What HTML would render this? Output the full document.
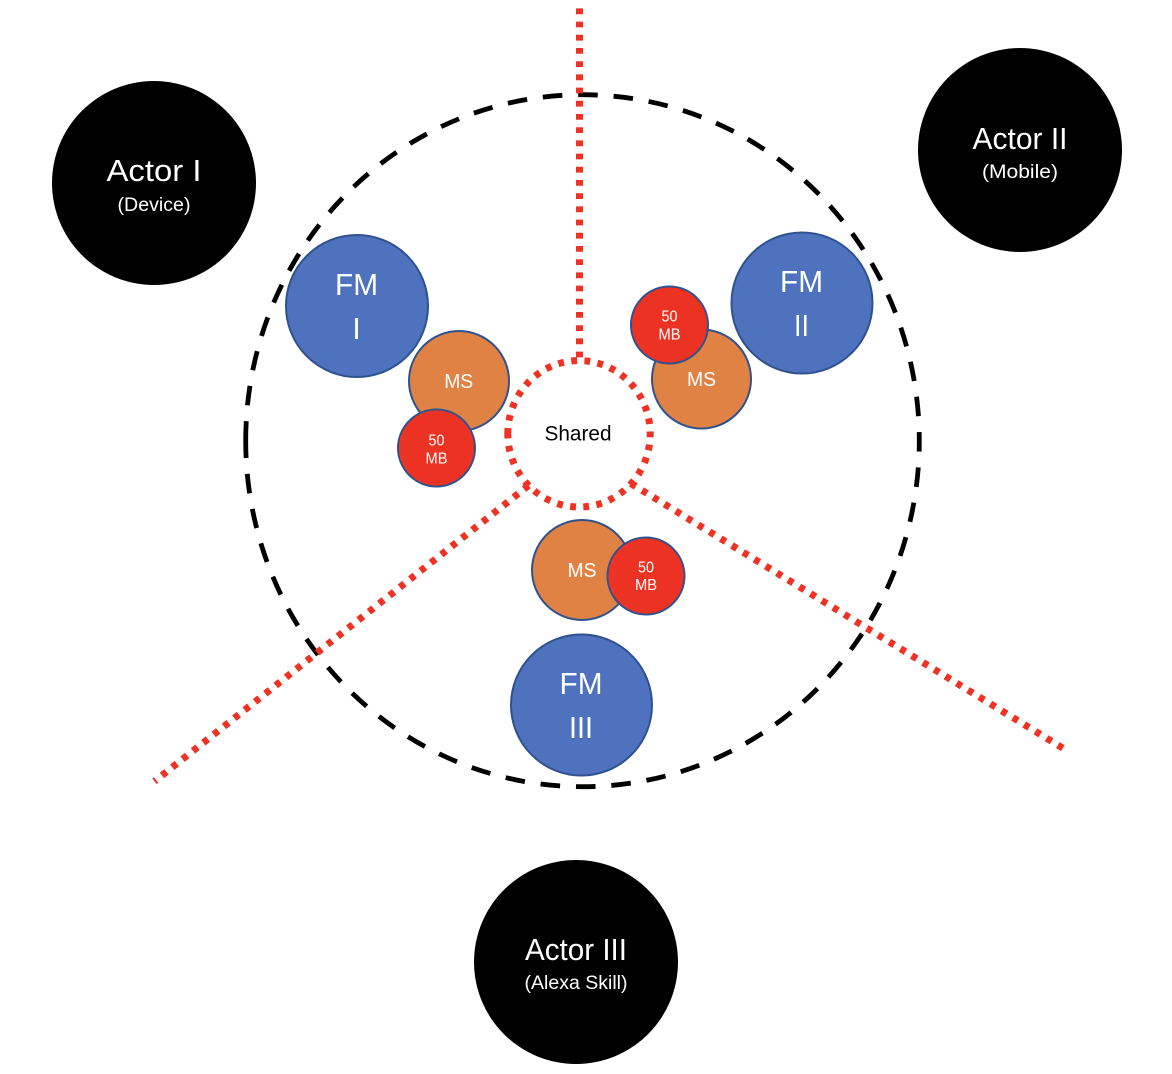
<!DOCTYPE html>
<html><head><meta charset="utf-8"><style>
html,body{margin:0;padding:0;background:#fff}
svg{display:block}
text{font-family:"Liberation Sans",sans-serif;text-anchor:middle}
</style></head><body>
<svg width="1172" height="1074" viewBox="0 0 1172 1074" xmlns="http://www.w3.org/2000/svg">
<path d="M245.7 440.7 A336.8 346 0 0 1 919.3 440.7 A336.8 346 0 0 1 245.7 440.7" fill="none" stroke="#000" stroke-width="4.8" stroke-dasharray="19.6 15.86"/>
<g fill="none" stroke="#ee3325" stroke-width="7" stroke-dasharray="5.8 7.4">
<line x1="579.5" y1="8.4" x2="579.5" y2="360"/>
<line x1="528.6" y1="485.5" x2="154.5" y2="781.3" stroke-dasharray="5.8 7.39"/>
<line x1="630.8" y1="483.5" x2="1064.5" y2="749.2" stroke-dasharray="5.8 7.38"/>
<path d="M507.8 433.8 A71.2 73.2 0 0 1 650.2 433.8 A71.2 73.2 0 0 1 507.8 433.8"/>
</g>
<g fill="#000">
<circle cx="154" cy="183" r="102"/>
<circle cx="1020" cy="150" r="102"/>
<circle cx="576" cy="962" r="102"/>
</g>
<g fill="#4e72bd" stroke="#2f528f" stroke-width="2">
<circle cx="357" cy="306" r="71"/>
<circle cx="802" cy="303" r="70.5"/>
<circle cx="581.5" cy="705" r="70.5"/>
</g>
<g fill="#e08244" stroke="#2f528f" stroke-width="2">
<circle cx="459" cy="381" r="50"/>
<circle cx="701.5" cy="379" r="49.5"/>
<circle cx="582" cy="570" r="50"/>
</g>
<g fill="#ec3323" stroke="#2f528f" stroke-width="2">
<circle cx="436.5" cy="448" r="38.5"/>
<circle cx="669.5" cy="325" r="38.5"/>
<circle cx="646" cy="576" r="38.5"/>
</g>
<g fill="#fff">
<text x="154" y="181" font-size="31" textLength="95" lengthAdjust="spacingAndGlyphs">Actor I</text>
<text x="154" y="211" font-size="19.5" textLength="73" lengthAdjust="spacingAndGlyphs">(Device)</text>
<text x="1020" y="149" font-size="31" textLength="95" lengthAdjust="spacingAndGlyphs">Actor II</text>
<text x="1020" y="178" font-size="19.5" textLength="76" lengthAdjust="spacingAndGlyphs">(Mobile)</text>
<text x="576" y="960" font-size="31" textLength="102" lengthAdjust="spacingAndGlyphs">Actor III</text>
<text x="576" y="989" font-size="19.5" textLength="103" lengthAdjust="spacingAndGlyphs">(Alexa Skill)</text>
<text x="356.5" y="295" font-size="31" textLength="43" lengthAdjust="spacingAndGlyphs">FM</text>
<text x="356.5" y="339" font-size="31">I</text>
<text x="801.5" y="292" font-size="31" textLength="43" lengthAdjust="spacingAndGlyphs">FM</text>
<text x="801.5" y="336" font-size="31" textLength="15" lengthAdjust="spacingAndGlyphs">II</text>
<text x="581" y="694" font-size="31" textLength="43" lengthAdjust="spacingAndGlyphs">FM</text>
<text x="581" y="738" font-size="31" textLength="24" lengthAdjust="spacingAndGlyphs">III</text>
<text x="458.7" y="388" font-size="20" textLength="29" lengthAdjust="spacingAndGlyphs">MS</text>
<text x="701.5" y="386" font-size="20" textLength="29" lengthAdjust="spacingAndGlyphs">MS</text>
<text x="582" y="577" font-size="20" textLength="29" lengthAdjust="spacingAndGlyphs">MS</text>
<g font-size="15.5">
<text x="436.5" y="445.7" textLength="16" lengthAdjust="spacingAndGlyphs">50</text><text x="436.5" y="463.3" textLength="22" lengthAdjust="spacingAndGlyphs">MB</text>
<text x="669.5" y="321.3" textLength="16" lengthAdjust="spacingAndGlyphs">50</text><text x="669.5" y="339.3" textLength="22" lengthAdjust="spacingAndGlyphs">MB</text>
<text x="646" y="572.3" textLength="16" lengthAdjust="spacingAndGlyphs">50</text><text x="646" y="590" textLength="22" lengthAdjust="spacingAndGlyphs">MB</text>
</g>
</g>
<text x="578" y="440.7" font-size="21" fill="#000" textLength="67" lengthAdjust="spacingAndGlyphs">Shared</text>
</svg>
</body></html>
